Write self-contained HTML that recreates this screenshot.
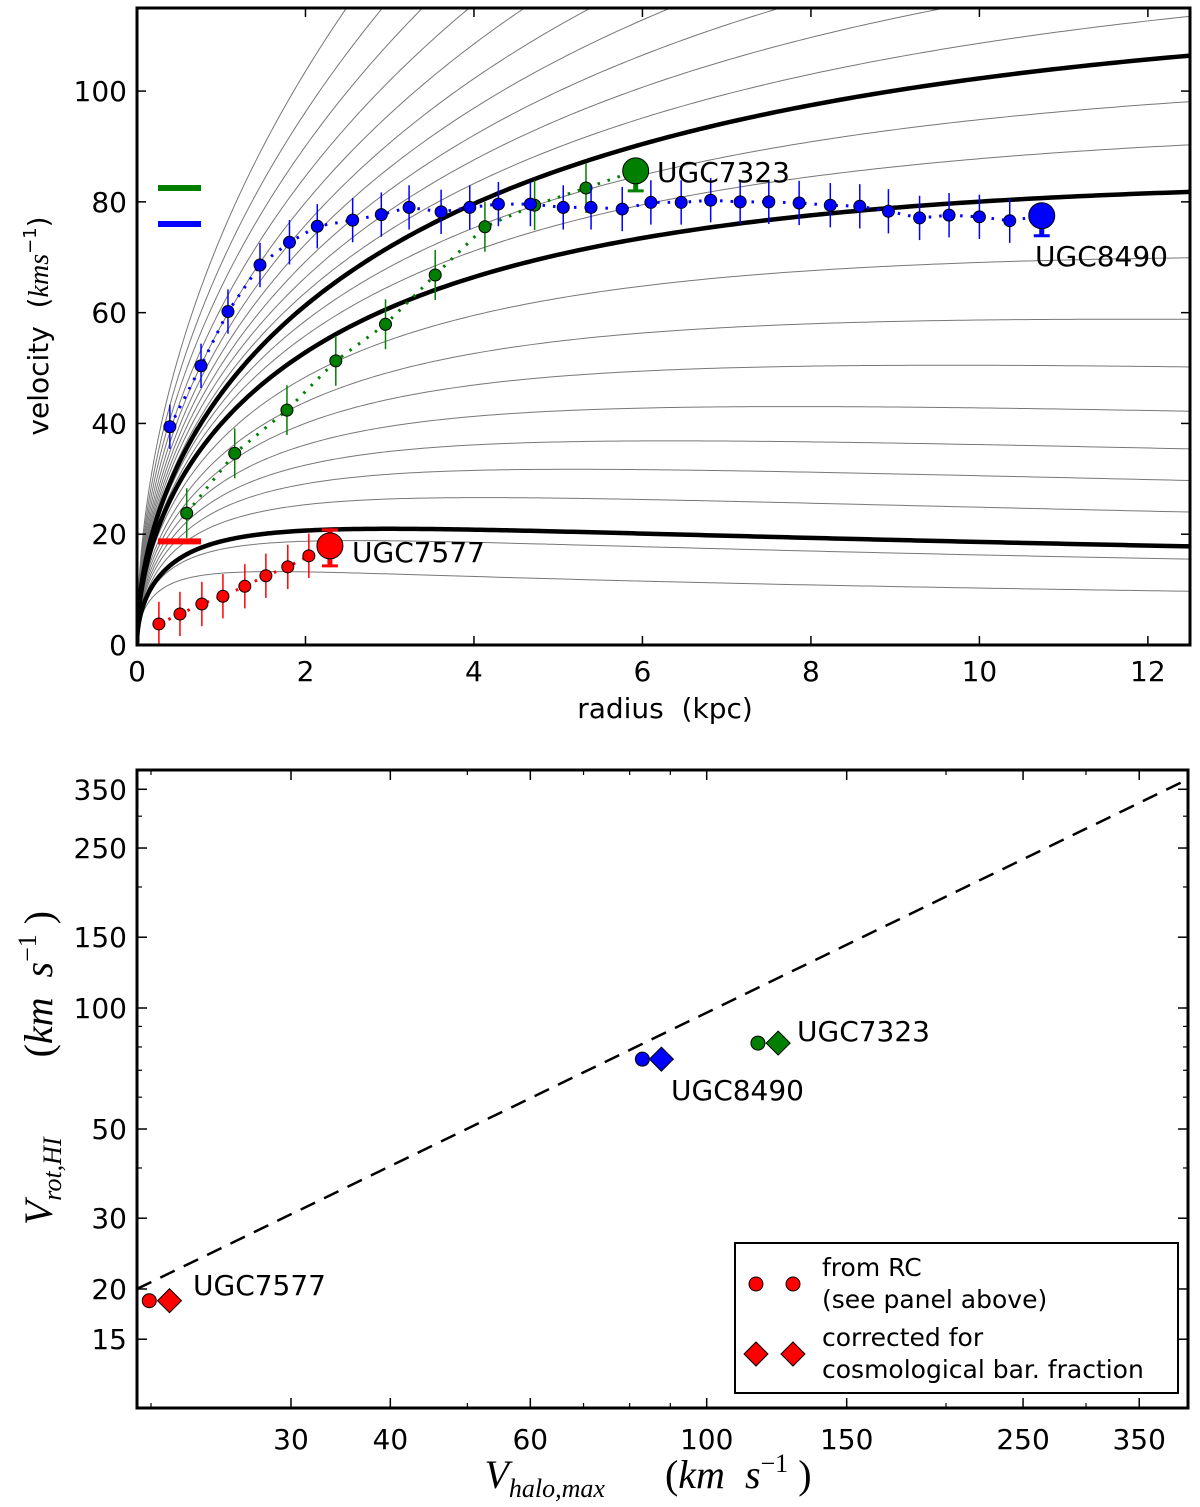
<!DOCTYPE html>
<html><head><meta charset="utf-8"><style>
html,body{margin:0;padding:0;background:#fff;}
svg{display:block;font-family:"DejaVu Sans","Liberation Sans",sans-serif;}
text{white-space:pre;}
</style></head><body>
<svg id="fig" width="1200" height="1507" viewBox="0 0 1200 1507" xmlns="http://www.w3.org/2000/svg"></svg>
<script>
// ---------- Top panel data ----------
const grayV12 = [9.7,15.5,24,29.7,35.4,42.2,50.2,58.8,69.9,90.3,98.1,113.5,122,131,141,152,165,180,197,216,238];
const thickV12 = [17.8,81.8,106.4];
const blueR = [0.39,0.76,1.08,1.46,1.81,2.14,2.56,2.90,3.23,3.61,3.95,4.29,4.67,5.06,5.39,5.76,6.10,6.46,6.81,7.16,7.50,7.86,8.23,8.58,8.92,9.29,9.64,10.00,10.36];
const blueV = [39.4,50.4,60.2,68.6,72.7,75.6,76.7,77.7,79.0,78.2,79.0,79.6,79.6,79.0,79.0,78.7,79.9,79.9,80.3,80.0,80.0,79.8,79.4,79.2,78.3,77.1,77.6,77.3,76.6];
const greenR = [0.59,1.16,1.78,2.36,2.95,3.54,4.13,4.72,5.33];
const greenV = [23.8,34.6,42.4,51.3,57.9,66.8,75.5,79.4,82.5];
const redR = [0.26,0.51,0.77,1.02,1.28,1.53,1.79,2.04];
const redV = [3.8,5.6,7.4,8.8,10.6,12.5,14.1,16.1];
const bigR = [5.92,10.74,2.29];
const bigV = [85.6,77.5,17.9];
const barV = [82.5,76.0,18.7];
const xTicksTop = [0,2,4,6,8,10,12];
const yTicksTop = [0,20,40,60,80,100];
// ---------- Bottom panel data ----------
const galNames = ["UGC7577","UGC8490","UGC7323"];
const rcX = [19.9,83,116];
const rcY = [18.7,74.6,81.8];
const corrX = [21.1,87.7,123];
const corrY = [18.7,74.6,81.8];
const dashX = [19.2,400];
const dashY = [20,368];
const xTicksBot = [30,40,60,100,150,250,350];
const xMinorBot = [20,50,70,80,90,200,300];
const yTicksBot = [15,20,30,50,100,150,250,350];
const yMinorBot = [40,60,70,80,90,200,300];

const NS="http://www.w3.org/2000/svg";
const svg=document.getElementById('fig');
function mk(tag,attrs,parent){const e=document.createElementNS(NS,tag);for(const k in attrs)e.setAttribute(k,attrs[k]);(parent||svg).appendChild(e);return e;}

const T={x0:137,x1:1190,y0:645,y1:8,xmax:12.5,ymax:115};
const tx=r=>T.x0+(r/T.xmax)*(T.x1-T.x0);
const ty=v=>T.y0-(v/T.ymax)*(T.y0-T.y1);
const B={x0:137,x1:1188,y0:1408,y1:770};
const bx=v=>291+795*Math.log10(v/30);
const by=v=>1008-402*Math.log10(v/100);

const cTop=mk('clipPath',{id:'cTop'});mk('rect',{x:T.x0,y:T.y1,width:T.x1-T.x0,height:T.y0-T.y1},cTop);
const cBot=mk('clipPath',{id:'cBot'});mk('rect',{x:B.x0,y:B.y1,width:B.x1-B.x0,height:B.y0-B.y1},cBot);

function g(x){return (Math.log(1+x)-x/(1+x))/x;}
const g0=g(2.163);
function vnfw(r,vmax){const rmax=3*Math.pow(vmax/21,1.33);const x=Math.max(r,1e-4)/rmax*2.163;return vmax*Math.sqrt(g(x)/g0);}
function solveVmax(v12){let lo=1,hi=3000;for(let i=0;i<60;i++){const m=(lo+hi)/2;if(vnfw(12.5,m)<v12)lo=m;else hi=m;}return (lo+hi)/2;}
function curvePath(vmax){let d='';for(let i=0;i<=250;i++){const r=12.5*Math.pow(i/250,1.6);d+=(i?'L':'M')+tx(r).toFixed(2)+','+ty(vnfw(r,vmax)).toFixed(2);}return d;}

const gTop=mk('g',{'clip-path':'url(#cTop)'});


grayV12.forEach(v=>{const p=mk('path',{d:curvePath(solveVmax(v)),fill:'none',stroke:'#777','stroke-width':1},gTop);

});
thickV12.forEach(v=>{const p=mk('path',{d:curvePath(solveVmax(v)),fill:'none',stroke:'#000','stroke-width':4.5},gTop);

});

const series=[{R:greenR,V:greenV,c:'#007f00',name:'ugc7323',big:0,err:4.5},{R:blueR,V:blueV,c:'#0000ff',name:'ugc8490',big:1,err:4},{R:redR,V:redV,c:'#ff0000',name:'ugc7577',big:2,err:4}];
const gS=mk('g',{});
series.forEach(s=>{
 const pts=s.R.map((r,i)=>tx(r)+','+ty(s.V[i]));pts.push(tx(bigR[s.big])+','+ty(bigV[s.big]));
 const l=mk('polyline',{points:pts.join(' '),fill:'none',stroke:s.c,'stroke-width':3,'stroke-dasharray':'2.5,8'},gS);
 
 
 s.R.forEach((r,i)=>{
  mk('line',{x1:tx(r),x2:tx(r),y1:ty(s.V[i]-s.err),y2:ty(s.V[i]+s.err),stroke:s.c,'stroke-width':1.5},gS);
  const c=mk('circle',{cx:tx(r),cy:ty(s.V[i]),r:6,fill:s.c,stroke:'#000','stroke-width':1},gS);
  
  
 });
 const bxp=tx(bigR[s.big]),byp=ty(bigV[s.big]);
 mk('line',{x1:bxp,x2:bxp,y1:byp,y2:byp+20,stroke:s.c,'stroke-width':5},gS);
 mk('line',{x1:bxp-8,x2:bxp+8,y1:byp+20,y2:byp+20,stroke:s.c,'stroke-width':3},gS);
 if(s.big===2){mk('line',{x1:bxp,x2:bxp,y1:byp,y2:byp-16,stroke:s.c,'stroke-width':5},gS);mk('line',{x1:bxp-8,x2:bxp+8,y1:byp-16,y2:byp-16,stroke:s.c,'stroke-width':3},gS);}
 const bc=mk('circle',{cx:bxp,cy:byp,r:13,fill:s.c,stroke:'#000','stroke-width':1},gS);
 
 
 const bar=mk('line',{x1:158,x2:201,y1:ty(barV[s.big]),y2:ty(barV[s.big]),stroke:s.c,'stroke-width':6},gS);
 
 
});
function txt(x,y,s,attrs,name){const t=mk('text',Object.assign({x:x,y:y,'font-size':28,fill:'#000'},attrs||{}));t.textContent=s;

return t;}
txt(657,172+10,'UGC7323',{},'label-ugc7323');
txt(1035,256+10,'UGC8490',{},'label-ugc8490');
txt(352,552+10,'UGC7577',{},'label-ugc7577');

const fr=mk('rect',{x:T.x0,y:T.y1,width:T.x1-T.x0,height:T.y0-T.y1,fill:'none',stroke:'#000','stroke-width':3});


xTicksTop.forEach(v=>{const x=tx(v);mk('line',{x1:x,x2:x,y1:T.y0,y2:T.y0-9,stroke:'#000','stroke-width':1.5});mk('line',{x1:x,x2:x,y1:T.y1,y2:T.y1+9,stroke:'#000','stroke-width':1.5});
 txt(x,T.y0+36,String(v),{'text-anchor':'middle'},'x-tick-label');});
yTicksTop.forEach(v=>{const y=ty(v);mk('line',{x1:T.x0,x2:T.x0+9,y1:y,y2:y,stroke:'#000','stroke-width':1.5});mk('line',{x1:T.x1,x2:T.x1-9,y1:y,y2:y,stroke:'#000','stroke-width':1.5});
 txt(T.x0-10,y+10,String(v),{'text-anchor':'end'},'y-tick-label');});
txt(665,718,'radius  (kpc)',{'text-anchor':'middle'},'x-axis-title');
const yl=txt(0,0,'',{'text-anchor':'middle',transform:'translate(48,326) rotate(-90)'},'y-axis-title');
yl.innerHTML='velocity  (<tspan font-style="italic" font-family="Liberation Serif, serif">kms</tspan><tspan font-size="18" dy="-12">−1</tspan><tspan dy="12">)</tspan>';

const gB=mk('g',{'clip-path':'url(#cBot)'});
const dl=mk('line',{x1:bx(dashX[0]),y1:by(dashY[0]),x2:bx(dashX[1]),y2:by(dashY[1]),stroke:'#000','stroke-width':2.5,'stroke-dasharray':'16,10'},gB);


const cols=['#ff0000','#0000ff','#007f00'];
galNames.forEach((n,i)=>{
 const c=mk('circle',{cx:bx(rcX[i]),cy:by(rcY[i]),r:7,fill:cols[i],stroke:'#000','stroke-width':1},gB);
 
 
 const x=bx(corrX[i]),y=by(corrY[i]),s=12;
 const d=mk('polygon',{points:`${x},${y-s} ${x+s},${y} ${x},${y+s} ${x-s},${y}`,fill:cols[i],stroke:'#000','stroke-width':1},gB);
 
 
});
txt(193,1295,'UGC7577',{},'label-ugc7577-bottom');
txt(671,1100,'UGC8490',{},'label-ugc8490-bottom');
txt(797,1041,'UGC7323',{},'label-ugc7323-bottom');
const fb=mk('rect',{x:B.x0,y:B.y1,width:B.x1-B.x0,height:B.y0-B.y1,fill:'none',stroke:'#000','stroke-width':3});


xTicksBot.forEach(v=>{const x=bx(v);mk('line',{x1:x,x2:x,y1:B.y0,y2:B.y0-10,stroke:'#000','stroke-width':1.5});mk('line',{x1:x,x2:x,y1:B.y1,y2:B.y1+10,stroke:'#000','stroke-width':1.5});
 txt(x,B.y0+41,String(v),{'text-anchor':'middle'},'x-tick-label-bottom');});
xMinorBot.forEach(v=>{const x=bx(v);if(x<B.x0||x>B.x1)return;mk('line',{x1:x,x2:x,y1:B.y0,y2:B.y0-5,stroke:'#000','stroke-width':1.2});mk('line',{x1:x,x2:x,y1:B.y1,y2:B.y1+5,stroke:'#000','stroke-width':1.2});});
yTicksBot.forEach(v=>{const y=by(v);mk('line',{x1:B.x0,x2:B.x0+10,y1:y,y2:y,stroke:'#000','stroke-width':1.5});mk('line',{x1:B.x1,x2:B.x1-10,y1:y,y2:y,stroke:'#000','stroke-width':1.5});
 txt(B.x0-10,y+10,String(v),{'text-anchor':'end'},'y-tick-label-bottom');});
yMinorBot.forEach(v=>{const y=by(v);mk('line',{x1:B.x0,x2:B.x0+5,y1:y,y2:y,stroke:'#000','stroke-width':1.2});mk('line',{x1:B.x1,x2:B.x1-5,y1:y,y2:y,stroke:'#000','stroke-width':1.2});});
const xt=txt(648,1488,'',{'text-anchor':'middle','font-family':'Liberation Serif, serif','font-size':40},'x-axis-title-bottom');
xt.innerHTML='<tspan font-style="italic">V</tspan><tspan font-style="italic" font-size="26" dy="9">halo,max</tspan><tspan dy="-9">      (</tspan><tspan font-style="italic">km  s</tspan><tspan font-size="26" dy="-16">−1</tspan><tspan dy="16"> )</tspan>';
const ytb=txt(0,0,'',{'text-anchor':'middle','font-family':'Liberation Serif, serif','font-size':40,transform:'translate(52,1068) rotate(-90)'},'y-axis-title-bottom');
ytb.innerHTML='<tspan font-style="italic">V</tspan><tspan font-style="italic" font-size="26" dy="9">rot,HI</tspan><tspan dy="-9">        (</tspan><tspan font-style="italic">km  s</tspan><tspan font-size="26" dy="-16">−1</tspan><tspan dy="16"> )</tspan>';

const lg=mk('g',{});


mk('rect',{x:735,y:1243,width:443,height:150,fill:'#fff',stroke:'#000','stroke-width':2},lg);
[756,793].forEach(x=>{mk('circle',{cx:x,cy:1284,r:7,fill:'#ff0000',stroke:'#000','stroke-width':1},lg);
 const s=12;mk('polygon',{points:`${x},${1354-s} ${x+s},1354 ${x},${1354+s} ${x-s},1354`,fill:'#ff0000',stroke:'#000','stroke-width':1},lg);});
[['from RC',1276],['(see panel above)',1308],['corrected for',1346],['cosmological bar. fraction',1378]].forEach(a=>{
 const t=mk('text',{x:822,y:a[1],'font-size':25,fill:'#000'},lg);t.textContent=a[0];
 
 });
</script>
</body></html>
